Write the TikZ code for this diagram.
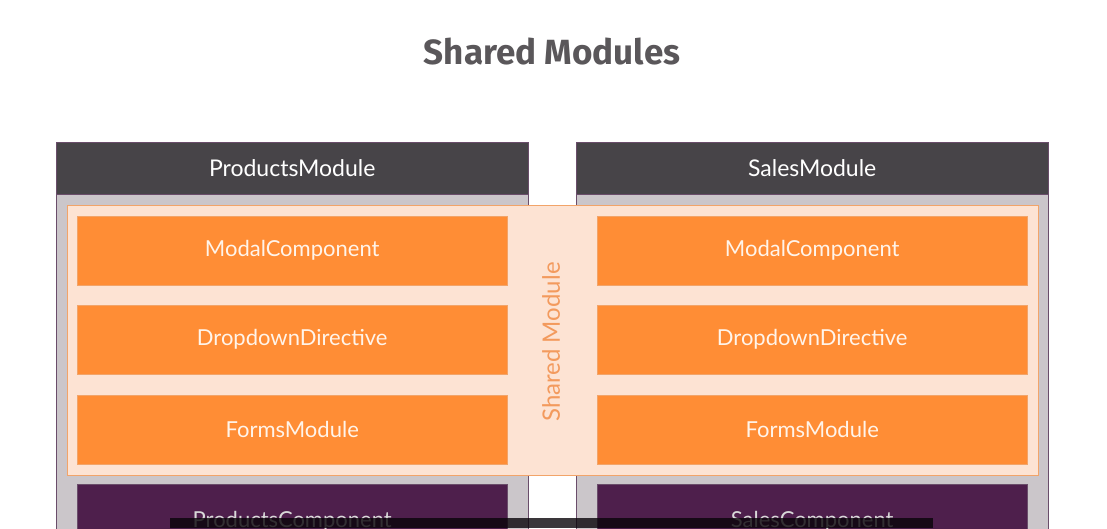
\documentclass[tikz,border=0pt]{standalone}
\usepackage{fontspec}
\setmainfont{Lato}
\newfontfamily\titlefont{Fira Sans}
\usetikzlibrary{positioning}
\definecolor{headgray}{HTML}{474448}
\definecolor{bodygray}{HTML}{CBC6CA}
\definecolor{modedge}{HTML}{6A4D6A}
\definecolor{peach}{HTML}{FDE3D3}
\definecolor{peachedge}{HTML}{F2A469}
\definecolor{orangebox}{HTML}{FF8D35}
\definecolor{sharedtext}{HTML}{F39A5D}
\definecolor{plum}{HTML}{4E1F4C}
\definecolor{cream}{HTML}{FFF4EA}
\tikzset{
    modhead/.style={
           rectangle, draw=modedge, fill=headgray,
           text=white, inner sep=0pt,
           minimum width=472, minimum height=52,
           anchor=north west,
           font=\fontsize{23}{26}\selectfont},
    modbody/.style={
           rectangle, draw=modedge, fill=bodygray,
           inner sep=0pt,
           minimum width=472, minimum height=360,
           anchor=north west},
    itembox/.style={
           rectangle, fill=orangebox, draw=peachedge,
           text=cream, inner sep=0pt,
           minimum width=430, minimum height=69,
           anchor=north west,
           font=\fontsize{22}{25}\selectfont},
    compbox/.style={
           rectangle, fill=plum, draw=modedge,
           text=white!85!black, inner sep=0pt, text depth=0pt,
           minimum width=430, minimum height=70,
           anchor=north west,
           font=\fontsize{22}{25}\selectfont}
}
\begin{document}
\begin{tikzpicture}[x=1pt,y=-1pt]
          \useasboundingbox[fill=white] (0,0) rectangle (1107,528);
          \node[font=\titlefont\bfseries\fontsize{35}{40}\selectfont, text=headgray!90!white] (title) at (552,52) {Shared Modules};
          % modules
          \node[modbody] (pbody) at (56,194) {};
          \node[modbody] (sbody) at (576,194) {};
          \node[modhead] (phead) at (56,142) {ProductsModule};
          \node[modhead] (shead) at (576,142) {SalesModule};
          % shared module band
          \node[rectangle, fill=peach, draw=peachedge, thick, minimum width=971, minimum height=270, anchor=north west, inner sep=0pt] (shared) at (67,205) {};
          \node[rotate=90, text=sharedtext, font=\fontsize{24}{28}\selectfont] (sharedlbl) at (551,342) {Shared Module};
          \node[itembox] (pmodal) at (77,216) {ModalComponent};
          \node[itembox] (pdrop) at (77,305) {DropdownDirective};
          \node[itembox] (pforms) at (77,395) {FormsModule};
          \node[itembox] (smodal) at (597,216) {ModalComponent};
          \node[itembox] (sdrop) at (597,305) {DropdownDirective};
          \node[itembox] (sforms) at (597,395) {FormsModule};
          % components
          \node[compbox] (pcomp) at (77,484) {ProductsComponent};
          \node[compbox] (scomp) at (597,484) {SalesComponent};
          % player bar
          \fill[black!88!plum, opacity=0.8] (170,518) rectangle (933,528);
         \end{tikzpicture}
\end{document}
